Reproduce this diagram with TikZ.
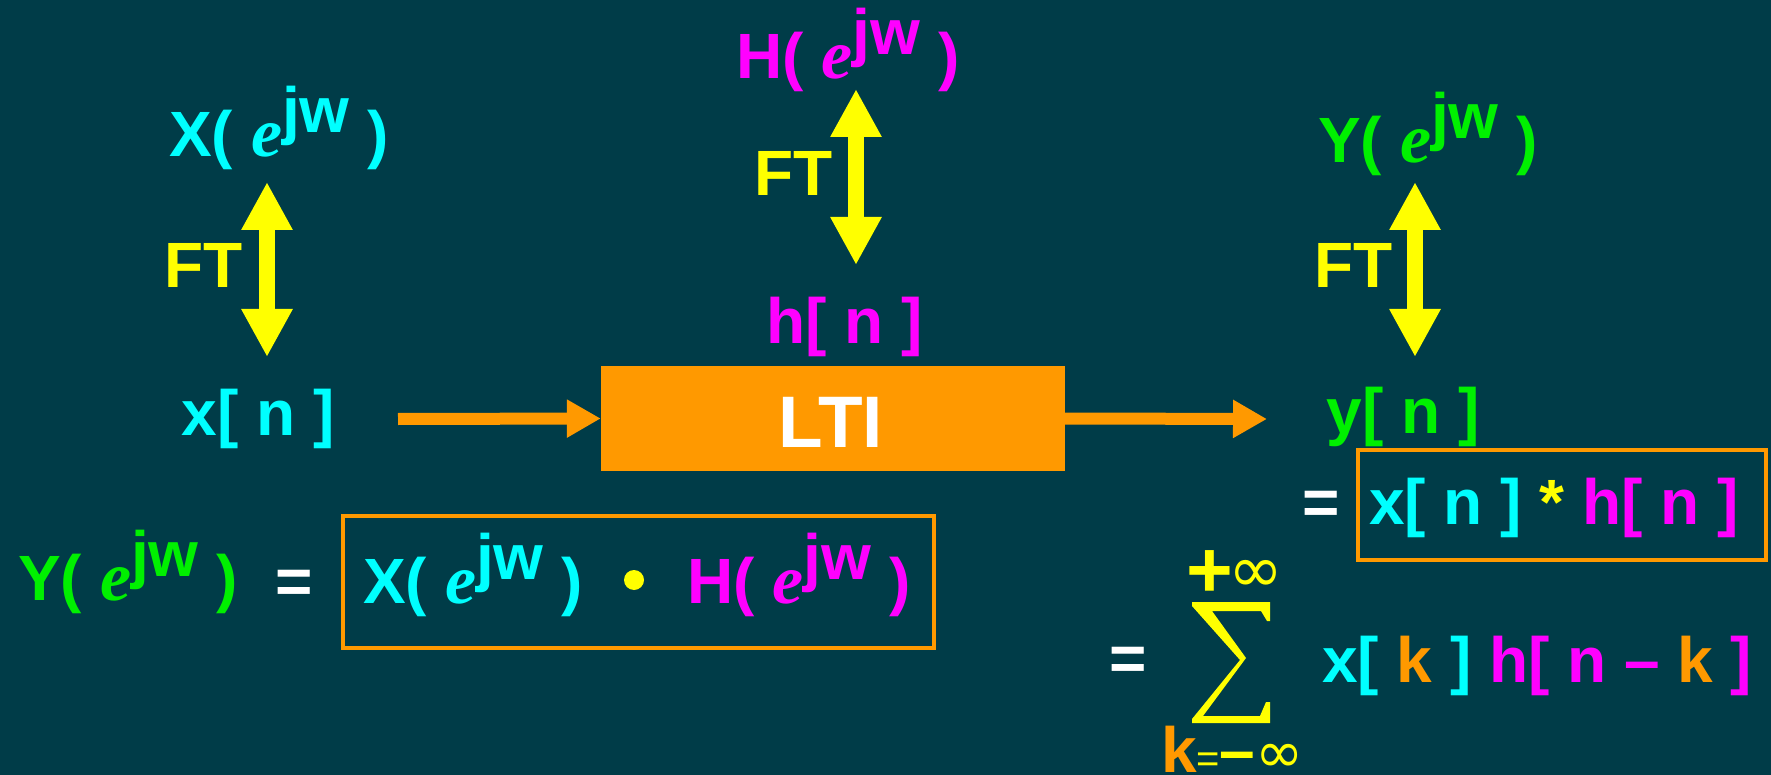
\documentclass[tikz,border=0pt]{standalone}
\usepackage{fontspec}
\setmainfont{Liberation Sans}
\newfontfamily\ser{Liberation Serif}
\newfontfamily\dv{DejaVu Sans}
\usetikzlibrary{arrows.meta}
\definecolor{bg}{RGB}{0,60,72}
\definecolor{cy}{RGB}{0,255,255}
\definecolor{mg}{RGB}{255,0,255}
\definecolor{gr}{RGB}{0,240,0}
\definecolor{ye}{RGB}{255,255,0}
\definecolor{og}{RGB}{255,153,0}
\newcommand{\bigf}{\fontsize{64}{64}\selectfont\bfseries}
\newcommand{\ejw}{{\fontsize{70}{70}\selectfont\ser\itshape\bfseries e}\raisebox{24pt}{jw}}
\begin{document}
\begin{tikzpicture}[x=1pt,y=-1pt,
  txt/.style={inner sep=0pt,outer sep=0pt,anchor=base,font=\bigf},
  ftarrow/.style={draw=ye,line width=16pt,{Triangle[width=48pt,length=48pt]}-{Triangle[width=48pt,length=48pt]}},
  sigarrow/.style={draw=og,line width=12pt,-{Triangle[width=36pt,length=34pt]}},
  obox/.style={draw=og,line width=4pt,inner sep=0pt,rectangle}]
\fill[bg] (0,0) rectangle (1771,775);
\useasboundingbox (0,0) rectangle (1771,775);

% top row: transforms
\node[txt,text=mg] (Hf) at (848,79) {H(\ \ejw\ )};
\node[txt,text=cy] (Xf) at (279,157) {X(\ \ejw\ )};
\node[txt,text=gr] (Yf) at (1428,163) {Y(\ \ejw\ )};

% FT labels
\node[txt,text=ye,anchor=base east] (ft1) at (243,288) {FT};
\node[txt,text=ye,anchor=base east] (ft2) at (833,196) {FT};
\node[txt,text=ye,anchor=base east] (ft3) at (1393,288) {FT};

% FT arrows
\coordinate (a1t) at (267,182); \coordinate (a1b) at (267,357);
\coordinate (a2t) at (856,89);  \coordinate (a2b) at (856,265);
\coordinate (a3t) at (1415,182); \coordinate (a3b) at (1415,357);
\draw[ftarrow] (a1t) -- (a1b);
\draw[ftarrow] (a2t) -- (a2b);
\draw[ftarrow] (a3t) -- (a3b);

% signals
\node[txt,text=cy] (xn) at (258,435) {x[ n ]};
\node[txt,text=mg] (hn) at (845,343) {h[ n ]};
\node[txt,text=gr] (yn) at (1403,433) {y[ n ]};

% LTI block
\node[fill=og,minimum width=464pt,minimum height=105pt,inner sep=0pt] (lti) at (833,418.5) {};
\node[txt,text=white,font=\fontsize{73}{73}\selectfont\bfseries] (ltit) at (831,447) {LTI};
\coordinate (inS) at (398,419);
\coordinate (outE) at (1267,419);
\draw[sigarrow] (inS) -- (lti.west);
\draw[sigarrow] (lti.east) -- (outE);

% convolution
\node[txt,text=white] (eq1) at (1321,524) {=};
\node[obox,minimum width=408pt,minimum height=110pt] (cbox) at (1562,505) {};
\node[txt] (conv) at (1554,524) {\color{cy}x[ n ] \color{ye}* \color{mg}h[ n ]};

% product
\node[txt,text=gr] (Yb) at (128,600) {Y(\ \ejw\ )};
\node[txt,text=white] (eq2) at (294,603) {=};
\node[obox,minimum width=591pt,minimum height=132pt] (pbox) at (638.5,582) {};
\node[txt,text=cy] (Xb) at (473,603) {X(\ \ejw\ )};
\node[circle,fill=ye,minimum size=20pt,inner sep=0pt] (dot) at (634,580) {};
\node[txt,text=mg] (Hb) at (799,603) {H(\ \ejw\ )};

% sum
\node[txt,text=white] (eq3) at (1128,680) {=};
\fill[ye] (1192,602) -- (1270,602) -- (1270,621) -- (1267,621) -- (1261,611) -- (1212,611)
  -- (1246,658) -- (1203,716) -- (1260,716) -- (1266,702) -- (1270,702) -- (1270,723)
  -- (1192,723) -- (1192,719) -- (1240,660) -- (1192,606) -- cycle;
\node[txt,text=ye] (supl) at (1235,597) {\fontsize{80}{80}\selectfont +\hspace{-4pt}\raisebox{5pt}{\dv\mdseries\fontsize{66}{66}\selectfont ∞}};
\node[txt,text=ye,anchor=base west] (subl) at (1161,772) {\color{og}k\color{ye}{\mdseries\fontsize{40}{40}\selectfont =}–{\dv\mdseries\fontsize{58}{58}\selectfont ∞}};
\node[txt,anchor=base west] (sumt) at (1322,682) {\color{cy}x[ \color{og}k \color{cy}] \color{mg}h[ n – \color{og}k \color{mg}]};
\end{tikzpicture}
\end{document}
